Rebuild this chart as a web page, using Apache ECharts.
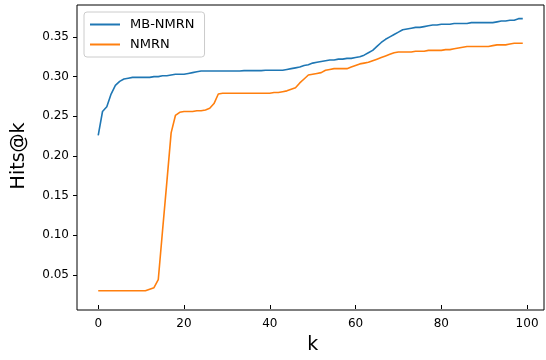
<!DOCTYPE html>
<html>
<head>
<meta charset="utf-8">
<script src="https://cdn.jsdelivr.net/npm/echarts@6/dist/echarts.min.js"></script>
<style>
  html, body { margin: 0; padding: 0; background: #fff; }
  #chart { width: 546px; height: 360px; }
</style>
</head>
<body>
<div id="chart"></div>
<script>
const seriesNames = ['MB-NMRN', 'NMRN'];

const mbNmrn = [
  0.226, 0.256, 0.262, 0.278, 0.289, 0.294, 0.297, 0.298, 0.299, 0.299,
  0.299, 0.299, 0.299, 0.300, 0.300, 0.301, 0.301, 0.302, 0.303, 0.303,
  0.303, 0.304, 0.305, 0.306, 0.307, 0.307, 0.307, 0.307, 0.307, 0.307,
  0.307, 0.307, 0.307, 0.307, 0.3075, 0.3075, 0.3075, 0.3075, 0.3075, 0.308,
  0.308, 0.308, 0.308, 0.308, 0.309, 0.310, 0.311, 0.312, 0.314, 0.315,
  0.317, 0.318, 0.319, 0.320, 0.321, 0.321, 0.322, 0.322, 0.323, 0.323,
  0.324, 0.325, 0.327, 0.330, 0.333, 0.338, 0.343, 0.347, 0.350, 0.353,
  0.356, 0.359, 0.360, 0.361, 0.362, 0.362, 0.363, 0.364, 0.365, 0.365,
  0.366, 0.366, 0.366, 0.367, 0.367, 0.367, 0.367, 0.368, 0.368, 0.368,
  0.368, 0.368, 0.368, 0.369, 0.370, 0.370, 0.371, 0.371, 0.373, 0.373
];

const nmrn = [
  0.030, 0.030, 0.030, 0.030, 0.030, 0.030, 0.030, 0.030, 0.030, 0.030,
  0.030, 0.030, 0.032, 0.034, 0.044, 0.106, 0.167, 0.229, 0.251, 0.255,
  0.256, 0.256, 0.256, 0.257, 0.257, 0.258, 0.260, 0.266, 0.278, 0.279,
  0.279, 0.279, 0.279, 0.279, 0.279, 0.279, 0.279, 0.279, 0.279, 0.279,
  0.279, 0.280, 0.280, 0.281, 0.282, 0.284, 0.286, 0.292, 0.297, 0.302,
  0.303, 0.304, 0.305, 0.308, 0.309, 0.310, 0.310, 0.310, 0.310, 0.312,
  0.314, 0.316, 0.317, 0.318, 0.320, 0.322, 0.324, 0.326, 0.328, 0.330,
  0.331, 0.331, 0.331, 0.331, 0.332, 0.332, 0.332, 0.333, 0.333, 0.333,
  0.333, 0.334, 0.334, 0.335, 0.336, 0.337, 0.338, 0.338, 0.338, 0.338,
  0.338, 0.338, 0.339, 0.340, 0.340, 0.340, 0.341, 0.342, 0.342, 0.342
];

const xTicks = [0, 20, 40, 60, 80, 100];
const xTickLabels = ['0', '20', '40', '60', '80', '100'];
const yTicks = [0.05, 0.10, 0.15, 0.20, 0.25, 0.30, 0.35];
const yTickLabels = ['0.05', '0.10', '0.15', '0.20', '0.25', '0.30', '0.35'];

const colors = ['#1f77b4', '#ff7f0e'];
const font = 'DejaVu Sans';

// outer frame (matplotlib axes box) and its data limits incl. 5% margins
const frame = { left: 77, right: 2, top: 5, bottom: 50, w: 467, h: 305 };
const xLim = [-4.95, 103.95];
const yLim = [0.0129, 0.3894];

// inner grid spans exactly the first..last tick, placed inside the frame
const xStep = xTicks[1] - xTicks[0];
const yStep = yTicks[1] - yTicks[0];
const sx = frame.w / (xLim[1] - xLim[0]);
const sy = frame.h / (yLim[1] - yLim[0]);
const padL = (xTicks[0] - xLim[0]) * sx;
const padR = (xLim[1] - xTicks[xTicks.length - 1]) * sx;
const padT = (yLim[1] - yTicks[yTicks.length - 1]) * sy;
const padB = (yTicks[0] - yLim[0]) * sy;

const toPairs = arr => arr.map((v, i) => [i, v]);

const chart = echarts.init(document.getElementById('chart'));
const option = {
  animation: false,
  grid: [
    {
      left: frame.left, right: frame.right, top: frame.top, bottom: frame.bottom,
      show: true, borderColor: '#000', borderWidth: 1, backgroundColor: 'transparent'
    },
    {
      left: frame.left + padL, right: frame.right + padR,
      top: frame.top + padT, bottom: frame.bottom + padB
    }
  ],
  legend: {
    orient: 'vertical',
    left: 84, top: 12,
    padding: [6, 10, 6, 6],
    itemGap: 7,
    itemWidth: 30, itemHeight: 2,
    icon: 'rect',
    backgroundColor: '#fff',
    borderColor: '#ccc', borderWidth: 1, borderRadius: 3,
    textStyle: { fontFamily: font, fontSize: 13, color: '#000', padding: [0, 0, 0, 5] },
    data: seriesNames
  },
  xAxis: [
    { gridIndex: 0, type: 'value', show: false, min: xLim[0], max: xLim[1] },
    {
      gridIndex: 1, type: 'value',
      min: xTicks[0], max: xTicks[xTicks.length - 1], interval: xStep,
      offset: padB,
      name: 'k',
      nameLocation: 'middle',
      nameGap: 31,
      nameTextStyle: { fontFamily: font, fontSize: 19, color: '#000' },
      splitLine: { show: false },
      axisLine: { show: false, onZero: false },
      axisTick: { show: true, length: 4, lineStyle: { color: '#000' } },
      axisLabel: { show: false }
    }
  ],
  yAxis: [
    { gridIndex: 0, type: 'value', show: false, min: yLim[0], max: yLim[1] },
    {
      gridIndex: 1, type: 'value',
      min: yTicks[0], max: yTicks[yTicks.length - 1], interval: yStep,
      offset: padL,
      name: 'Hits@k',
      nameLocation: 'middle',
      nameGap: 48,
      nameTextStyle: { fontFamily: font, fontSize: 19, color: '#000' },
      splitLine: { show: false },
      axisLine: { show: false, onZero: false },
      axisTick: { show: true, length: 4, lineStyle: { color: '#000' } },
      axisLabel: { show: false }
    }
  ],
  series: [
    {
      name: seriesNames[0], type: 'line', data: toPairs(mbNmrn),
      xAxisIndex: 1, yAxisIndex: 1, clip: false,
      showSymbol: false, color: colors[0],
      lineStyle: { width: 1.6, color: colors[0] }
    },
    {
      name: seriesNames[1], type: 'line', data: toPairs(nmrn),
      xAxisIndex: 1, yAxisIndex: 1, clip: false,
      showSymbol: false, color: colors[1],
      lineStyle: { width: 1.6, color: colors[1] }
    }
  ]
};
chart.setOption(option);

// tick labels placed via the axes' scales (the built-in labels drop some of them)
const frameBottom = chart.convertToPixel({ yAxisIndex: 0 }, yLim[0]);
const frameLeft = chart.convertToPixel({ xAxisIndex: 0 }, xLim[0]);
const labelStyle = { fontFamily: font, fontSize: 12, fill: '#000' };
const tickLabels = [];
xTicks.forEach((v, i) => {
  tickLabels.push({
    type: 'text', silent: true,
    x: chart.convertToPixel({ xAxisIndex: 1 }, v), y: frameBottom + 8,
    style: Object.assign({ text: xTickLabels[i], align: 'center', verticalAlign: 'top' }, labelStyle)
  });
});
yTicks.forEach((v, i) => {
  tickLabels.push({
    type: 'text', silent: true,
    x: frameLeft - 8, y: chart.convertToPixel({ yAxisIndex: 1 }, v),
    style: Object.assign({ text: yTickLabels[i], align: 'right', verticalAlign: 'middle' }, labelStyle)
  });
});
chart.setOption({ graphic: tickLabels });
</script>
</body>
</html>
